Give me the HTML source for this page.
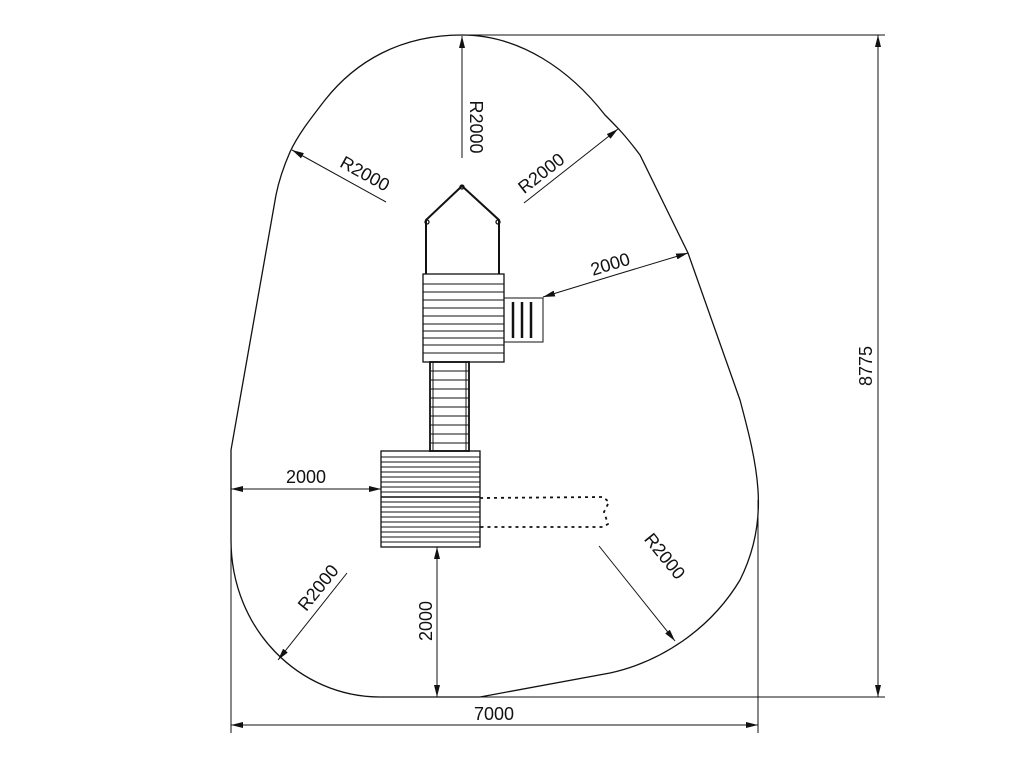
<!DOCTYPE html>
<html><head><meta charset="utf-8"><style>
html,body{margin:0;padding:0;background:#fff;}
svg{display:block;}
text{font-family:"Liberation Sans",sans-serif;font-size:18px;fill:#111;}
</style></head><body>
<svg width="1023" height="766" viewBox="0 0 1023 766" xmlns="http://www.w3.org/2000/svg">
<defs>
<marker id="a" viewBox="0 0 12 6" refX="12" refY="3" markerWidth="12" markerHeight="6" orient="auto" markerUnits="userSpaceOnUse">
<path d="M0,0 L12,3 L0,6 z" fill="#111"/></marker>
</defs>
<g fill="none" stroke="#111" stroke-width="1.3">
<path d="M462,35 C400,35 355,62 325,100 C308,122 298,135 290,152 C283,168 279,180 276,195 L231,450 L231,540 C231,630 300,697 380,697 L480,697 L610,673 C660,662 710,630 740,580 C755,550 760,520 758,490 C756,460 748,430 740,400 L688,253 L640,155 C625,135 618,128 605,115 C570,70 520,35 462,35 Z"/>
<line x1="462" y1="35" x2="885" y2="35" stroke-width="1"/>
<line x1="480" y1="697" x2="885" y2="697" stroke-width="1"/>
<line x1="878" y1="366" x2="878" y2="35" stroke-width="1" marker-end="url(#a)"/>
<line x1="878" y1="366" x2="878" y2="697" stroke-width="1" marker-end="url(#a)"/>
<line x1="231" y1="490" x2="231" y2="733" stroke-width="1"/>
<line x1="758" y1="500" x2="758" y2="733" stroke-width="1"/>
<line x1="494" y1="725" x2="231" y2="725" stroke-width="1" marker-end="url(#a)"/>
<line x1="494" y1="725" x2="758" y2="725" stroke-width="1" marker-end="url(#a)"/>
<line x1="462" y1="158" x2="462" y2="36" stroke-width="1" marker-end="url(#a)"/>
<line x1="386" y1="202" x2="292" y2="150" stroke-width="1" marker-end="url(#a)"/>
<line x1="524" y1="203" x2="618" y2="129" stroke-width="1" marker-end="url(#a)"/>
<line x1="615" y1="275" x2="688" y2="253" stroke-width="1" marker-end="url(#a)"/>
<line x1="615" y1="275" x2="543" y2="297" stroke-width="1" marker-end="url(#a)"/>
<line x1="381" y1="489" x2="231" y2="489" stroke-width="1" marker-end="url(#a)"/>
<line x1="231" y1="489" x2="381" y2="489" stroke-width="1" marker-end="url(#a)"/>
<line x1="437" y1="620" x2="437" y2="547" stroke-width="1" marker-end="url(#a)"/>
<line x1="437" y1="620" x2="437" y2="697" stroke-width="1" marker-end="url(#a)"/>
<line x1="347" y1="573" x2="278" y2="660" stroke-width="1" marker-end="url(#a)"/>
<line x1="599" y1="546" x2="675" y2="641" stroke-width="1" marker-end="url(#a)"/>
<path d="M426,274 L426,220 L462,186 L499,220 L499,274" stroke-width="2"/>
<circle cx="462" cy="187" r="2"/><circle cx="427" cy="222" r="2"/><circle cx="498" cy="222" r="2"/>
<rect x="423" y="274" width="81" height="88"/>
<rect x="504" y="298" width="39" height="44" stroke-width="1"/>
<line x1="513" y1="302" x2="513" y2="338" stroke-width="2.5"/>
<line x1="522" y1="302" x2="522" y2="338" stroke-width="2.5"/>
<line x1="531" y1="302" x2="531" y2="338" stroke-width="2.5"/>
<rect x="430" y="362" width="39" height="89" stroke-width="1.8"/>
<line x1="433" y1="362" x2="433" y2="451" stroke-width="1"/>
<line x1="466" y1="362" x2="466" y2="451" stroke-width="1"/>
<rect x="381" y="451" width="99" height="96"/>
<path d="M480,498 L603,497 L609,502 L604,512 L608,524 L603,527 L480,527" stroke-dasharray="3,4" stroke-width="1.8"/>
</g>
<g stroke="#111" stroke-width="0.9">
<line x1="423" y1="284" x2="504" y2="284"/><line x1="423" y1="292" x2="504" y2="292"/>
<line x1="423" y1="300" x2="504" y2="300"/><line x1="423" y1="308" x2="504" y2="308"/>
<line x1="423" y1="316" x2="504" y2="316"/><line x1="423" y1="324" x2="504" y2="324"/>
<line x1="423" y1="331" x2="504" y2="331"/><line x1="423" y1="338" x2="504" y2="338"/>
<line x1="423" y1="345" x2="504" y2="345"/><line x1="423" y1="353" x2="504" y2="353"/>
<line x1="430" y1="371" x2="469" y2="371"/><line x1="430" y1="380" x2="469" y2="380"/>
<line x1="430" y1="389" x2="469" y2="389"/><line x1="430" y1="398" x2="469" y2="398"/>
<line x1="430" y1="407" x2="469" y2="407"/><line x1="430" y1="416" x2="469" y2="416"/>
<line x1="430" y1="425" x2="469" y2="425"/><line x1="430" y1="434" x2="469" y2="434"/>
<line x1="430" y1="443" x2="469" y2="443"/>
<line x1="381" y1="457" x2="480" y2="457"/><line x1="381" y1="462" x2="480" y2="462"/>
<line x1="381" y1="467" x2="480" y2="467"/><line x1="381" y1="472" x2="480" y2="472"/>
<line x1="381" y1="477" x2="480" y2="477"/><line x1="381" y1="482" x2="480" y2="482"/>
<line x1="381" y1="487" x2="480" y2="487"/><line x1="381" y1="492" x2="480" y2="492"/>
<line x1="381" y1="497" x2="480" y2="497" stroke-width="1.6"/><line x1="381" y1="502" x2="480" y2="502"/>
<line x1="381" y1="507" x2="480" y2="507"/><line x1="381" y1="512" x2="480" y2="512"/>
<line x1="381" y1="517" x2="480" y2="517"/><line x1="381" y1="522" x2="480" y2="522"/>
<line x1="381" y1="527" x2="480" y2="527"/><line x1="381" y1="532" x2="480" y2="532"/>
<line x1="381" y1="537" x2="480" y2="537"/><line x1="381" y1="542" x2="480" y2="542"/>
</g>
<text x="0" y="0" text-anchor="middle" transform="translate(470,127) rotate(90)">R2000</text>
<text x="0" y="0" text-anchor="middle" transform="translate(362,179) rotate(29)">R2000</text>
<text x="0" y="0" text-anchor="middle" transform="translate(545,178) rotate(-38)">R2000</text>
<text x="0" y="0" text-anchor="middle" transform="translate(612,270) rotate(-17)">2000</text>
<text x="306" y="483" text-anchor="middle">2000</text>
<text x="0" y="0" text-anchor="middle" transform="translate(432,621) rotate(-90)">2000</text>
<text x="0" y="0" text-anchor="middle" transform="translate(326,594) rotate(-51)" dy="-4">R2000</text>
<text x="0" y="0" text-anchor="middle" transform="translate(660,560) rotate(51)">R2000</text>
<text x="494" y="720" text-anchor="middle">7000</text>
<text x="0" y="0" text-anchor="middle" transform="translate(872,366) rotate(-90)">8775</text>
</svg>
</body></html>
